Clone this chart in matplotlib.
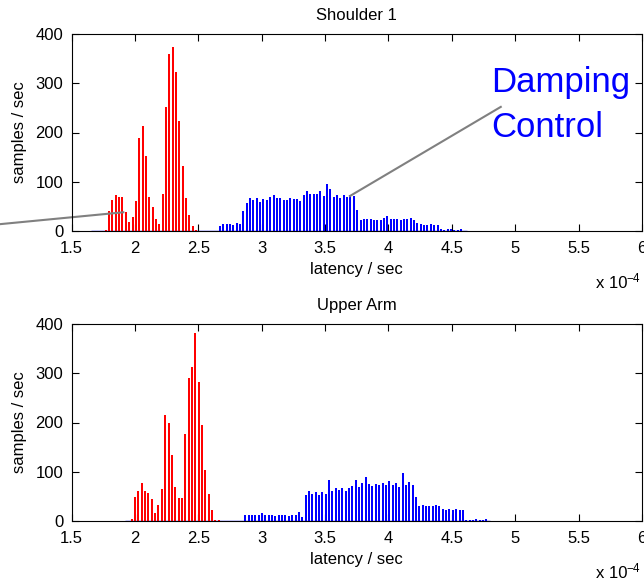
import matplotlib.pyplot as plt
import numpy as np
from matplotlib.lines import Line2D

plt.rcParams['font.family'] = ['Liberation Sans', 'DejaVu Sans']
plt.rcParams['font.size'] = 12

# histogram heights (samples / sec), latency in units of 1e-4 sec
bin_w = 0.0264

red_top_start = 1.770
red_top = [3, 40, 62, 73, 69, 69, 38, 19, 29, 60, 189, 214, 153, 70, 48, 24, 14,
           76, 252, 359, 373, 322, 224, 132, 67, 32, 10, 2]
blue_top_start = 2.671
blue_top = [10, 14, 14, 14, 12, 16, 15, 40, 57, 66, 62, 66, 59, 65, 62, 69, 73, 68,
            66, 63, 63, 66, 64, 65, 61, 73, 81, 75, 76, 76, 81, 71, 95, 85, 69, 73,
            68, 73, 69, 74, 71, 42, 22, 25, 25, 25, 22, 23, 22, 26, 30, 25, 25, 25,
            22, 24, 24, 26, 22, 16, 14, 13, 13, 14, 13, 13, 5, 3, 4, 4, 3, 3, 4, 1]

red_bot_start = 1.975
red_bot = [5, 48, 60, 77, 61, 57, 45, 16, 32, 65, 215, 200, 133, 69, 47, 46, 177,
           291, 313, 382, 282, 195, 104, 54, 22, 3, 2]
blue_bot_start = 2.871
blue_bot = [12, 12, 12, 12, 12, 16, 12, 12, 12, 11, 12, 12, 12, 11, 12, 12, 18, 9,
            52, 60, 54, 59, 52, 59, 54, 83, 61, 68, 63, 68, 61, 68, 71, 83, 69, 77,
            89, 75, 71, 76, 74, 77, 73, 81, 73, 77, 69, 98, 73, 79, 73, 49, 31, 33,
            31, 31, 31, 33, 31, 24, 22, 24, 22, 24, 22, 22, 3, 3, 3, 4, 3, 3, 4]

titles = ['Shoulder 1', 'Upper Arm']
xticks = [1.5, 2, 2.5, 3, 3.5, 4, 4.5, 5, 5.5, 6]
yticks = [0, 100, 200, 300, 400]

W, H = 644, 581
fig = plt.figure(figsize=(W / 100, H / 100), dpi=100)


def px_axes(left, top, right, bottom):
    return fig.add_axes([left / W, 1 - bottom / H, (right - left) / W, (bottom - top) / H])


ax1 = px_axes(71.5, 34, 642, 231)
ax2 = px_axes(71.5, 324, 642, 521)

series = [
    (ax1, red_top_start, red_top, blue_top_start, blue_top, (1.65, 4.62)),
    (ax2, red_bot_start, red_bot, blue_bot_start, blue_bot, (1.92, 4.80)),
]

for (ax, rs, rv, bs, bv, base), title in zip(series, titles):
    rx = rs + bin_w * np.arange(len(rv))
    bx = bs + bin_w * np.arange(len(bv))
    ax.hlines(0, base[0], base[1], color='#0000ff', lw=1.0, zorder=1)
    ax.bar(rx, rv, width=bin_w * 0.6, color='#ff0000', linewidth=0, zorder=2)
    ax.bar(bx, bv, width=bin_w * 0.6, color='#0000ff', linewidth=0, zorder=2)
    ax.set_xlim(1.5, 6)
    ax.set_ylim(0, 400)
    ax.set_xticks(xticks)
    ax.set_xticklabels(['1.5', '2', '2.5', '3', '3.5', '4', '4.5', '5', '5.5', '6'])
    ax.set_yticks(yticks)
    ax.tick_params(direction='in', length=5, width=0.8, top=True, right=True,
                   labelsize=12)
    ax.tick_params(axis='x', pad=7.5)
    ax.tick_params(axis='y', pad=6)
    for s in ax.spines.values():
        s.set_linewidth(0.8)
    ax.set_title(title, fontsize=12, pad=10)
    ax.set_xlabel('latency / sec', fontsize=12, labelpad=4)
    ax.set_ylabel('samples / sec', fontsize=12)
    ax.yaxis.set_label_coords(-0.078, 0.5)

# "x 10^-4" exponent labels
for yoff in (0, 290):
    fig.text(596 / W, 1 - (288 + yoff) / H, 'x 10', fontsize=12, va='baseline', ha='left')
    fig.text(626 / W, 1 - (282 + yoff) / H, '\u22124', fontsize=8.5, va='baseline', ha='left')

# annotation lines and label
ax1.add_line(Line2D([3.696, 4.886], [71, 252], color='#808080', lw=1.5, clip_on=False))
ax1.add_line(Line2D([0.9, 1.909], [13, 38], color='#808080', lw=1.5, clip_on=False))
ax1.text(4.808, 283, 'Damping', color='#0000ff', fontsize=25, va='baseline', ha='left',
         clip_on=False)
ax1.text(4.808, 191, 'Control', color='#0000ff', fontsize=25, va='baseline', ha='left',
         clip_on=False)

fig.savefig('out.png', dpi=100)
